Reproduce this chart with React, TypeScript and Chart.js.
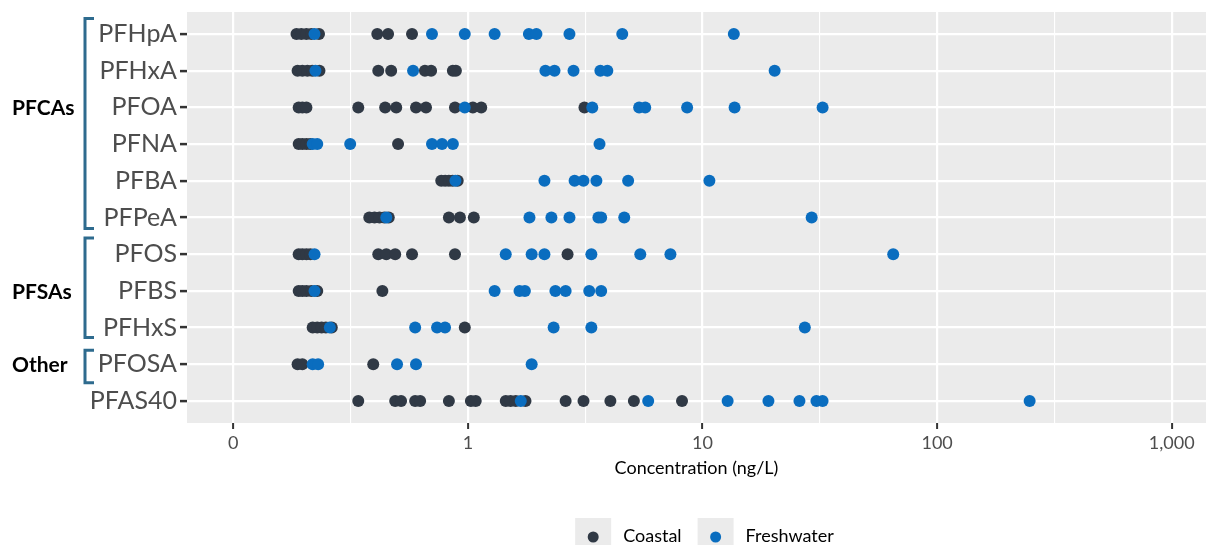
import React, { useEffect, useRef } from "react";
import { Chart, registerables } from "chart.js";

Chart.register(...registerables);

const categories = ["PFHpA", "PFHxA", "PFOA", "PFNA", "PFBA", "PFPeA", "PFOS", "PFBS", "PFHxS", "PFOSA", "PFAS40"];

const coastalValues: number[][] = [
  [0.186, 0.195, 0.205, 0.215, 0.232, 0.411, 0.457, 0.578],
  [0.188, 0.197, 0.207, 0.217, 0.233, 0.415, 0.471, 0.656, 0.697, 0.863, 0.889],
  [0.19, 0.197, 0.205, 0.341, 0.444, 0.495, 0.601, 0.663, 0.881, 1.05, 1.14, 3.14],
  [0.19, 0.197, 0.205, 0.213, 0.504],
  [0.77, 0.8, 0.83, 0.86, 0.905],
  [0.38, 0.4, 0.42, 0.44, 0.46, 0.83, 0.925, 1.06],
  [0.19, 0.197, 0.205, 0.213, 0.415, 0.449, 0.49, 0.578, 0.881, 2.66],
  [0.19, 0.197, 0.205, 0.215, 0.228, 0.432],
  [0.218, 0.228, 0.238, 0.248, 0.263, 0.97],
  [0.188, 0.197, 0.395],
  [0.341, 0.49, 0.519, 0.596, 0.626, 0.83, 1.03, 1.08, 1.45, 1.52, 1.6, 1.76, 2.61, 3.11, 4.05, 5.1, 8.18],
];

const freshwaterValues: number[][] = [
  [0.222, 0.703, 0.97, 1.3, 1.82, 1.96, 2.71, 4.55, 13.6],
  [0.224, 0.584, 2.14, 2.34, 2.82, 3.67, 3.93, 20.3],
  [0.97, 3.39, 5.37, 5.7, 8.6, 13.7, 32.5],
  [0.218, 0.228, 0.315, 0.703, 0.776, 0.863, 3.64],
  [0.885, 2.12, 2.85, 3.11, 3.53, 4.82, 10.7],
  [0.449, 1.83, 2.27, 2.71, 3.6, 3.7, 4.64, 29.2],
  [0.222, 1.45, 1.87, 2.12, 3.36, 5.43, 7.3, 65.0],
  [0.222, 1.3, 1.66, 1.75, 2.36, 2.61, 3.29, 3.7],
  [0.258, 0.596, 0.739, 0.799, 2.32, 3.36, 27.3],
  [0.218, 0.23, 0.499, 0.601, 1.87],
  [1.68, 5.87, 12.8, 19.1, 25.9, 30.6, 32.5, 248],
];

const xTickValues = [0.1, 1, 10, 100, 1000];
const xTickLabels = ["0", "1", "10", "100", "1,000"];
const xMinorValues = [0.316, 3.16, 31.6, 316];

const seriesNames = ["Coastal", "Freshwater"];
const seriesColors = ["#303945", "#0a6dbf"];

const groupNames = ["PFCAs", "PFSAs", "Other"];
const groupLabelRow = [2, 7, 9];
const groupTop = [-0.42, 5.56, 8.62];
const groupBottom = [5.3, 8.27, 9.5];

const FONT = "Lato, 'Open Sans', sans-serif";

const panelPlugin = {
  id: "panelBg",
  beforeDraw(chart: any) {
    const { ctx, chartArea } = chart;
    ctx.save();
    ctx.fillStyle = "#EBEBEB";
    ctx.fillRect(chartArea.left, chartArea.top, chartArea.right - chartArea.left, chartArea.bottom - chartArea.top);
    ctx.restore();
  },
};

const annotPlugin = {
  id: "groupsLegend",
  afterDraw(chart: any) {
    const { ctx, chartArea } = chart;
    const yScale = chart.scales.y;
    ctx.save();
    // group brackets + labels
    const bx = chartArea.left - 102;
    for (let g = 0; g < groupNames.length; g++) {
      const t = yScale.getPixelForValue(groupTop[g]);
      const b = yScale.getPixelForValue(groupBottom[g]);
      ctx.strokeStyle = "#2e6b8e";
      ctx.lineWidth = 3;
      ctx.lineCap = "butt";
      ctx.lineJoin = "miter";
      ctx.beginPath();
      ctx.moveTo(bx + 9, t);
      ctx.lineTo(bx, t);
      ctx.lineTo(bx, b);
      ctx.lineTo(bx + 9, b);
      ctx.stroke();
      ctx.fillStyle = "#000";
      ctx.font = `bold 21px ${FONT}`;
      ctx.textAlign = "left";
      ctx.textBaseline = "middle";
      ctx.fillText(groupNames[g], 12, yScale.getPixelForValue(groupLabelRow[g]) + 1);
    }
    // legend
    ctx.font = `18px ${FONT}`;
    const keyW = 36;
    const gapKT = 12;
    const gapTK = 16;
    const widths = seriesNames.map((n) => ctx.measureText(n).width);
    let total = 0;
    widths.forEach((w, i) => {
      total += keyW + gapKT + w + (i < widths.length - 1 ? gapTK : 0);
    });
    let x = (chartArea.left + chartArea.right) / 2 + 8 - total / 2;
    const keyTop = 518;
    const cy = 536;
    seriesNames.forEach((n, i) => {
      ctx.fillStyle = "#EBEBEB";
      ctx.fillRect(x, keyTop, keyW, 40);
      ctx.fillStyle = seriesColors[i];
      ctx.beginPath();
      ctx.arc(x + keyW / 2, cy + 1, 5.5, 0, Math.PI * 2);
      ctx.fill();
      x += keyW + gapKT;
      ctx.fillStyle = "#000";
      ctx.textAlign = "left";
      ctx.textBaseline = "middle";
      ctx.fillText(n, x, cy);
      x += widths[i] + gapTK;
    });
    ctx.restore();
  },
};

export default function App() {
  const canvasRef = useRef<HTMLCanvasElement | null>(null);

  useEffect(() => {
    document.body.style.margin = "0";
    let chart: any = null;
    let cancelled = false;
    const build = () => {
      if (cancelled || !canvasRef.current) return;
      const datasets = [coastalValues, freshwaterValues].map((vals, s) => ({
        label: seriesNames[s],
        data: categories.flatMap((_, i) => vals[i].map((v) => ({ x: v, y: i }))),
        backgroundColor: seriesColors[s],
        borderWidth: 0,
        pointRadius: 6,
        pointHoverRadius: 6,
        order: s === 0 ? 2 : 1,
      }));
      const majorSet = new Set(xTickValues);
      chart = new Chart(canvasRef.current, {
        type: "scatter",
        data: { datasets },
        plugins: [panelPlugin, annotPlugin],
        options: {
          animation: false,
          responsive: false,
          devicePixelRatio: 1,
          layout: { padding: { top: 12, left: 0, right: 0, bottom: 0 } },
          plugins: { legend: { display: false }, tooltip: { enabled: false } },
          scales: {
            x: {
              type: "logarithmic",
              min: 0.0635,
              max: 1400,
              afterBuildTicks: (scale: any) => {
                scale.ticks = [...xTickValues, ...xMinorValues]
                  .sort((a, b) => a - b)
                  .map((v) => ({ value: v, major: majorSet.has(v) }));
              },
              afterFit: (scale: any) => {
                scale.height = 122;
                scale.paddingLeft = 0;
                scale.paddingRight = 0;
              },
              border: { display: false },
              grid: {
                color: "#FFFFFF",
                lineWidth: (c: any) => (c.tick && majorSet.has(c.tick.value) ? 2.2 : 1.1),
                tickColor: (c: any) => (c.tick && majorSet.has(c.tick.value) ? "#333333" : "rgba(0,0,0,0)"),
                tickLength: 6,
                tickWidth: 2,
                drawTicks: true,
              },
              ticks: {
                autoSkip: false,
                maxRotation: 0,
                padding: 3,
                color: "#4d4d4d",
                font: { family: FONT, size: 18 },
                callback: (v: any) => {
                  const idx = xTickValues.indexOf(Number(v));
                  return idx >= 0 ? xTickLabels[idx] : "";
                },
              },
              title: {
                display: true,
                text: "Concentration (ng/L)",
                color: "#000",
                font: { family: FONT, size: 18 },
                padding: { top: 0, bottom: 66 },
              },
            },
            y: {
              type: "linear",
              reverse: true,
              min: -0.6,
              max: 10.6,
              afterBuildTicks: (scale: any) => {
                scale.ticks = categories.map((_, i) => ({ value: i }));
              },
              afterFit: (scale: any) => {
                scale.width = 187;
                scale.paddingTop = 0;
                scale.paddingBottom = 0;
              },
              border: { display: false },
              grid: {
                color: "#FFFFFF",
                lineWidth: 2.2,
                tickColor: "#333333",
                tickLength: 7,
                tickWidth: 2.5,
              },
              ticks: {
                autoSkip: false,
                padding: 3,
                color: "#4d4d4d",
                font: { family: FONT, size: 25 },
                callback: (v: any) => categories[Number(v)] ?? "",
              },
            },
          },
        },
      } as any);
    };
    const fontsReady = (document as any).fonts
      ? Promise.all([
          (document as any).fonts.load(`25px Lato`),
          (document as any).fonts.load(`bold 21px Lato`),
        ]).catch(() => null)
      : Promise.resolve(null);
    fontsReady.then(build);
    return () => {
      cancelled = true;
      if (chart) chart.destroy();
    };
  }, []);

  return (
    <div style={{ width: 1212, height: 545, position: "relative" }}>
      <canvas ref={canvasRef} width={1212} height={545} style={{ display: "block" }} />
    </div>
  );
}
